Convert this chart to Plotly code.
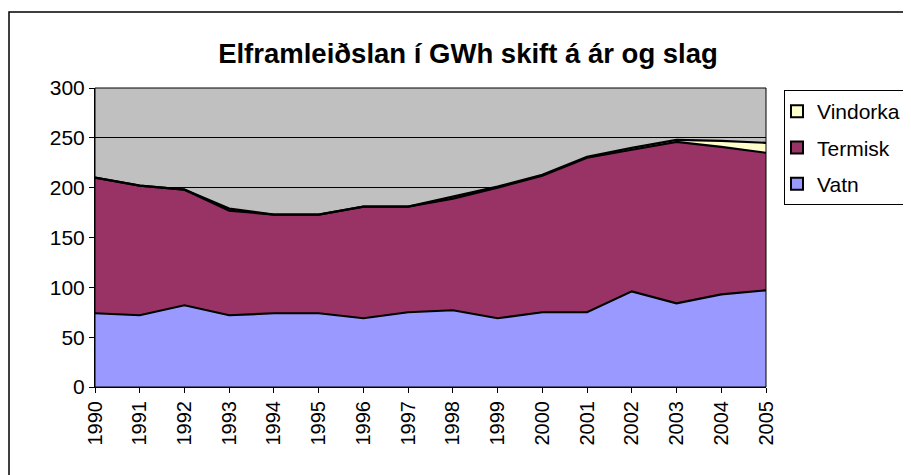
import plotly.graph_objects as go

years = list(range(1990, 2006))
vatn = [74, 72, 82, 72, 74, 74, 69, 75, 77, 69, 75, 75, 96, 84, 93, 97]
termisk = [136, 130, 116, 105, 99, 99, 112, 106, 112, 131, 137, 155, 142, 162, 148, 138]
vindorka = [0, 0, 0, 2, 0, 0, 0, 0, 2, 1, 1, 1, 2, 2, 6, 10]

series = [("Vatn", vatn, "#9999FF"), ("Termisk", termisk, "#993366"), ("Vindorka", vindorka, "#FFFFCC")]

fig = go.Figure()
for name, vals, col in series:
    fig.add_trace(go.Scatter(
        x=years, y=vals, name=name, mode="lines", stackgroup="one",
        fillcolor=col, line=dict(color="black", width=2.2), showlegend=False,
    ))
# legend entries with square swatches (top to bottom: Vindorka, Termisk, Vatn)
for name, vals, col in reversed(series):
    fig.add_trace(go.Scatter(
        x=[None], y=[None], name=name, mode="markers", legendgroup=name,
        marker=dict(symbol="square", size=11, color=col, line=dict(color="black", width=1.5)),
    ))

# page-pixel layout (body has an 8px margin)
OFF = 8
W, H = 960, 475
L, R, T, B = 95 - OFF, 766 - OFF, 88 - OFF, 387 - OFF
pw, ph = R - L, B - T

def px2x(px):
    return (px - OFF - L) / pw

def py2y(py):
    return (B - (py - OFF)) / ph

fig.update_layout(
    width=W, height=H,
    margin=dict(l=L, r=W - R, t=T, b=H - B),
    paper_bgcolor="white", plot_bgcolor="#C0C0C0",
    font=dict(family="Liberation Sans, Arial, sans-serif", color="black"),
    title=dict(text="<b>Elframleiðslan í GWh skift á ár og slag</b>",
               x=(468 - OFF) / W, xanchor="center", y=1 - (53 - OFF) / H, yanchor="middle",
               font=dict(size=27.5, color="black")),
    showlegend=True,
    legend=dict(traceorder="grouped", x=px2x(784), xanchor="left", y=py2y(90), yanchor="top",
                bgcolor="white", bordercolor="black", borderwidth=1, indentation=-8,
                font=dict(size=21), itemsizing="constant", tracegroupgap=6, itemwidth=30),
    xaxis=dict(range=[1990, 2005], tickmode="array", tickvals=years, ticktext=[str(y) for y in years],
               tickangle=-90, ticks="outside", ticklen=5, tickcolor="black",
               showgrid=False, showline=True, linecolor="black", linewidth=1,
               tickfont=dict(size=20), zeroline=False),
    yaxis=dict(range=[0, 300], dtick=50, ticks="outside", ticklen=5, tickcolor="black",
               showgrid=True, gridcolor="black", gridwidth=1,
               showline=True, linecolor="black", linewidth=1,
               tickfont=dict(size=21), zeroline=False),
    shapes=[
        dict(type="rect", xref="paper", yref="paper",
             x0=px2x(9), x1=px2x(980), y0=py2y(12), y1=py2y(520),
             line=dict(color="black", width=1.5), fillcolor="rgba(0,0,0,0)", layer="below"),
        dict(type="rect", xref="paper", yref="paper", x0=0, x1=1, y0=0, y1=1,
             line=dict(color="black", width=1), fillcolor="rgba(0,0,0,0)"),
    ],
)

fig.write_html("out.html")
